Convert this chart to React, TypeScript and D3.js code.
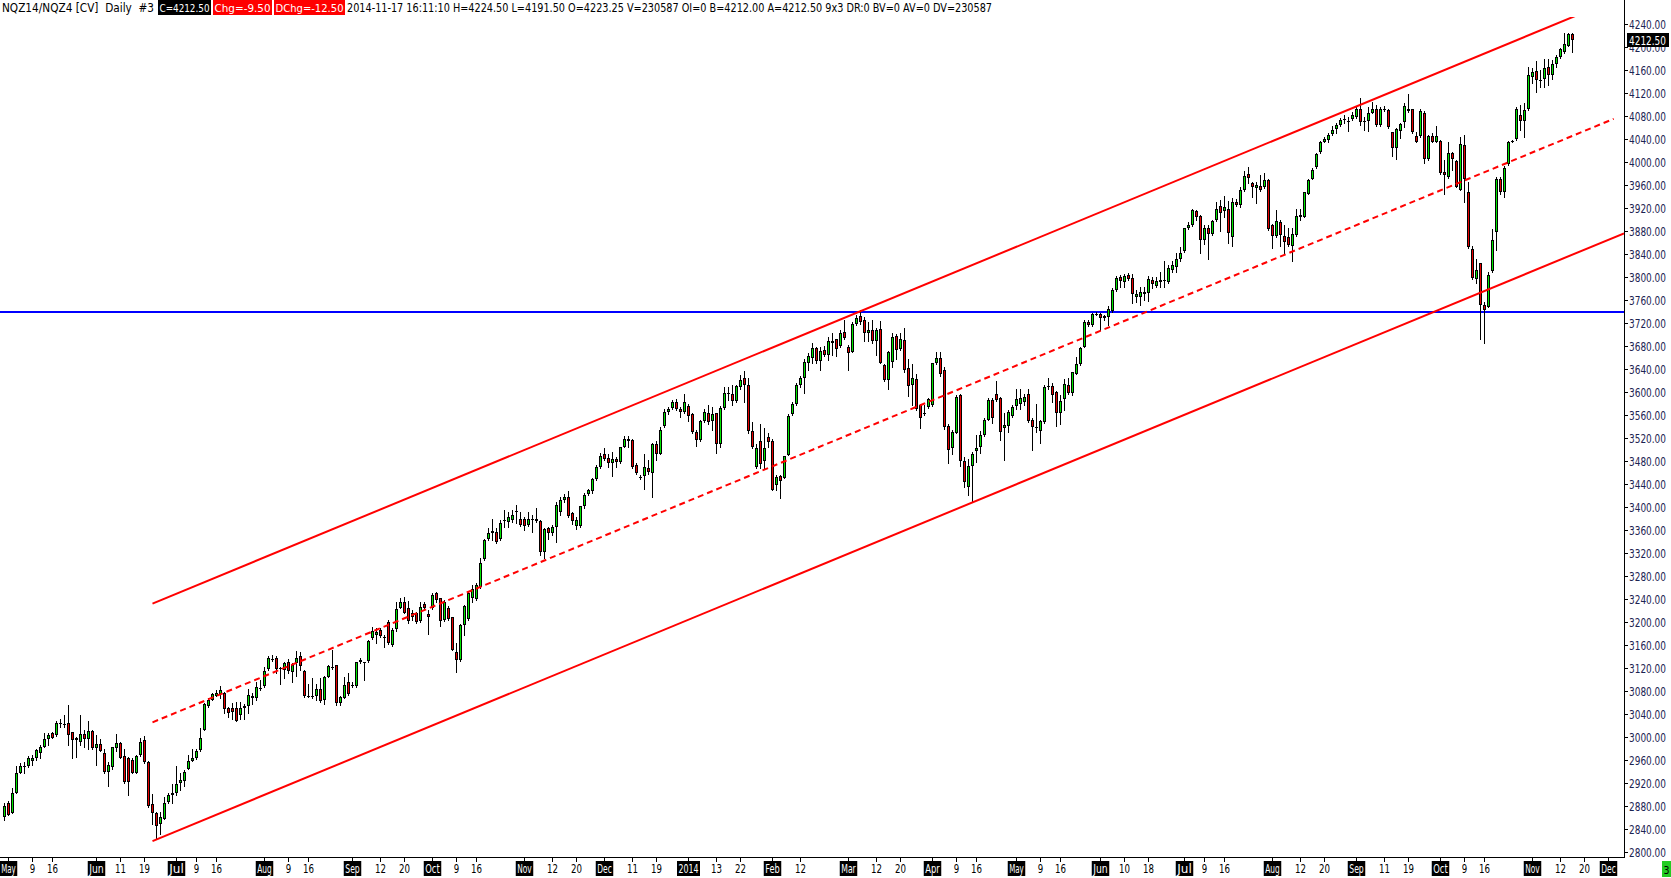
import * as d3 from "d3";
import React from "react";

const WIDTH = 1671;
const HEIGHT = 878;
const PLOT_RIGHT = 1624;
const PLOT_TOP = 17;
const AXIS_Y = 857;
const FONT = "'Liberation Sans Narrow', 'DejaVu Sans Condensed', sans-serif";

// exchange holidays inside the shown range
const HOLIDAYS = [
  "2013-05-27", "2013-07-04", "2013-09-02", "2013-11-28", "2013-12-25",
  "2014-01-01", "2014-01-20", "2014-02-17", "2014-04-18", "2014-05-26",
  "2014-07-04", "2014-09-01", "2014-11-27",
];

const FIRST_CANDLE = "2013-04-30";

// daily OHLC from 2013-04-30 to 2014-11-17
const OPEN = [
  2861, 2886, 2868, 2903, 2938, 2947, 2950, 2959, 2963, 2973, 2982,
  2997, 3007, 3003, 3024, 3022, 3024, 3008, 2998, 2992, 3006,
  2996, 3011, 2981, 2987, 2972, 2940, 2948, 2981, 2990, 2967,
  2964, 2960, 2938, 2969, 2995, 2957, 2883, 2867, 2849, 2858,
  2887, 2899, 2903, 2920, 2924, 2945, 2959, 2963, 2977, 3013,
  3054, 3065, 3071, 3074, 3076, 3050, 3050, 3050, 3039, 3051,
  3054, 3067, 3067, 3085, 3089, 3118, 3135, 3138, 3120, 3116,
  3130, 3113, 3128, 3140, 3115, 3072, 3071, 3071, 3083, 3064,
  3105, 3122, 3125, 3060, 3068, 3095, 3090, 3089, 3134, 3130,
  3133, 3172, 3177, 3186, 3174, 3200, 3160, 3187, 3225, 3234,
  3224, 3209, 3215, 3202, 3231, 3214, 3224, 3251, 3241, 3203,
  3225, 3208, 3147, 3134, 3195, 3206, 3241, 3240, 3261, 3309,
  3345, 3355, 3357, 3344, 3377, 3374, 3378, 3393, 3380, 3379,
  3369, 3380, 3380, 3376, 3321, 3364, 3355, 3365, 3392, 3412,
  3417, 3389, 3367, 3367, 3401, 3423, 3427, 3448, 3469, 3493,
  3485, 3477, 3483, 3479, 3505, 3519, 3517, 3473, 3453, 3454,
  3467, 3460, 3509, 3493, 3541, 3566, 3573, 3583, 3570, 3566,
  3576, 3561, 3531, 3516, 3549, 3563, 3550, 3563, 3509, 3573,
  3599, 3597, 3585, 3608, 3625, 3613, 3532, 3469, 3515, 3480,
  3522, 3515, 3438, 3454, 3451, 3491, 3561, 3579, 3612, 3624,
  3651, 3660, 3676, 3654, 3673, 3664, 3686, 3692, 3680, 3704,
  3678, 3670, 3718, 3732, 3725, 3702, 3708, 3689, 3710, 3647,
  3621, 3653, 3697, 3674, 3690, 3641, 3612, 3622, 3578, 3563,
  3574, 3577, 3651, 3659, 3638, 3541, 3502, 3529, 3595, 3480,
  3435, 3471, 3498, 3505, 3525, 3552, 3586, 3596, 3590, 3537,
  3541, 3558, 3576, 3580, 3583, 3596, 3551, 3539, 3533, 3548,
  3611, 3611, 3600, 3564, 3587, 3612, 3599, 3632, 3648, 3679,
  3722, 3716, 3735, 3735, 3732, 3731, 3741, 3777, 3800, 3792,
  3803, 3799, 3766, 3766, 3774, 3773, 3795, 3785, 3792, 3794,
  3792, 3813, 3817, 3831, 3846, 3885, 3890, 3914, 3906, 3864,
  3886, 3874, 3899, 3923, 3915, 3919, 3870, 3931, 3925, 3951,
  3979, 3964, 3954, 3958, 3957, 3969, 3890, 3871, 3896, 3872,
  3870, 3854, 3873, 3908, 3905, 3945, 3971, 3992, 4017, 4035,
  4039, 4049, 4057, 4064, 4074, 4072, 4075, 4078, 4092, 4072,
  4072, 4086, 4092, 4065, 4093, 4090, 4052, 4025, 4054, 4070,
  4093, 4092, 4045, 4045, 4086, 4005, 4045, 4035, 4036, 3983,
  3974, 4016, 4002, 3952, 4029, 3947, 3848, 3796, 3824, 3751,
  3748, 3811, 3879, 3970, 3947, 3996, 4037, 4040, 4082, 4072,
  4092, 4148, 4158, 4143, 4144, 4165, 4152, 4170, 4182, 4192,
  4202, 4223.25,
];

const HIGH = [
  2886, 2889, 2912, 2950, 2955, 2957, 2967, 2969, 2980, 2986, 3007,
  3007, 3009, 3028, 3031, 3038, 3056, 3009, 3000, 3038, 3012,
  3027, 3012, 3003, 2996, 2980, 2957, 2983, 3005, 2992, 2980,
  2966, 2964, 2969, 2998, 3002, 2958, 2901, 2870, 2870, 2896,
  2902, 2919, 2950, 2937, 2943, 2968, 2980, 2980, 3015, 3060,
  3067, 3077, 3082, 3089, 3079, 3053, 3060, 3061, 3061, 3058,
  3084, 3076, 3096, 3099, 3122, 3140, 3142, 3140, 3122, 3130,
  3135, 3128, 3149, 3147, 3116, 3093, 3102, 3093, 3102, 3106,
  3125, 3151, 3126, 3071, 3105, 3111, 3096, 3131, 3137, 3131,
  3169, 3192, 3189, 3189, 3177, 3203, 3189, 3234, 3241, 3244,
  3237, 3221, 3218, 3235, 3235, 3221, 3251, 3253, 3242, 3238,
  3228, 3209, 3164, 3196, 3229, 3253, 3264, 3267, 3311, 3345,
  3363, 3380, 3363, 3377, 3395, 3392, 3395, 3403, 3392, 3383,
  3392, 3386, 3399, 3377, 3363, 3366, 3369, 3409, 3418, 3423,
  3428, 3391, 3383, 3402, 3425, 3432, 3450, 3473, 3494, 3502,
  3493, 3495, 3487, 3505, 3524, 3524, 3519, 3476, 3456, 3492,
  3481, 3512, 3514, 3540, 3571, 3574, 3586, 3587, 3574, 3596,
  3580, 3563, 3534, 3551, 3571, 3577, 3574, 3564, 3576, 3609,
  3609, 3612, 3612, 3630, 3636, 3624, 3547, 3510, 3545, 3537,
  3528, 3519, 3456, 3456, 3489, 3562, 3583, 3615, 3628, 3658,
  3667, 3686, 3678, 3679, 3680, 3696, 3702, 3693, 3707, 3725,
  3682, 3721, 3734, 3743, 3731, 3722, 3726, 3711, 3724, 3649,
  3671, 3702, 3701, 3702, 3712, 3657, 3649, 3632, 3580, 3577,
  3589, 3650, 3669, 3670, 3644, 3544, 3534, 3595, 3596, 3487,
  3484, 3496, 3525, 3532, 3554, 3590, 3589, 3620, 3592, 3563,
  3568, 3577, 3606, 3606, 3596, 3606, 3554, 3580, 3552, 3612,
  3624, 3615, 3602, 3594, 3622, 3624, 3635, 3661, 3679, 3725,
  3725, 3738, 3740, 3738, 3734, 3750, 3780, 3802, 3803, 3806,
  3807, 3806, 3778, 3783, 3783, 3802, 3800, 3800, 3809, 3827,
  3821, 3827, 3841, 3852, 3886, 3896, 3919, 3916, 3908, 3890,
  3890, 3900, 3931, 3934, 3941, 3933, 3937, 3935, 3957, 3985,
  3991, 3966, 3966, 3977, 3981, 3970, 3893, 3916, 3899, 3890,
  3886, 3885, 3919, 3919, 3948, 3971, 3989, 4016, 4037, 4044,
  4050, 4063, 4067, 4076, 4082, 4079, 4087, 4095, 4112, 4079,
  4095, 4105, 4099, 4095, 4097, 4092, 4053, 4060, 4068, 4103,
  4118, 4093, 4053, 4092, 4088, 4047, 4050, 4063, 4038, 4003,
  4034, 4018, 4003, 4043, 4047, 3966, 3854, 3831, 3825, 3757,
  3809, 3883, 3974, 3974, 3993, 4037, 4039, 4095, 4099, 4103,
  4166, 4163, 4175, 4160, 4179, 4179, 4177, 4186, 4199, 4225,
  4225, 4224.5,
];

const LOW = [
  2856, 2864, 2867, 2902, 2938, 2938, 2947, 2951, 2960, 2963, 2982,
  2986, 2999, 3001, 3018, 3018, 2986, 2964, 2966, 2986, 2983,
  2980, 2980, 2951, 2976, 2938, 2914, 2944, 2976, 2963, 2920,
  2899, 2937, 2937, 2967, 2955, 2879, 2849, 2822, 2832, 2857,
  2886, 2885, 2899, 2908, 2915, 2944, 2958, 2962, 2976, 3012,
  3052, 3064, 3071, 3067, 3042, 3034, 3032, 3027, 3031, 3031,
  3041, 3058, 3065, 3082, 3087, 3116, 3132, 3111, 3093, 3102,
  3111, 3096, 3106, 3116, 3070, 3070, 3067, 3065, 3061, 3058,
  3104, 3119, 3055, 3055, 3067, 3073, 3087, 3087, 3128, 3099,
  3131, 3171, 3163, 3174, 3157, 3162, 3158, 3185, 3224, 3215,
  3199, 3203, 3198, 3200, 3221, 3180, 3222, 3235, 3193, 3202,
  3204, 3151, 3113, 3133, 3177, 3204, 3235, 3238, 3260, 3308,
  3343, 3343, 3338, 3343, 3365, 3366, 3374, 3372, 3367, 3360,
  3367, 3357, 3374, 3316, 3312, 3345, 3351, 3340, 3386, 3409,
  3383, 3370, 3361, 3365, 3399, 3421, 3425, 3447, 3467, 3482,
  3470, 3454, 3470, 3477, 3504, 3505, 3467, 3458, 3448, 3432,
  3458, 3418, 3482, 3492, 3540, 3562, 3571, 3569, 3557, 3564,
  3550, 3529, 3506, 3515, 3547, 3545, 3534, 3494, 3505, 3571,
  3586, 3577, 3583, 3606, 3583, 3529, 3502, 3467, 3467, 3467,
  3505, 3429, 3429, 3415, 3450, 3490, 3560, 3577, 3609, 3599,
  3639, 3651, 3651, 3639, 3662, 3656, 3664, 3662, 3678, 3693,
  3638, 3669, 3717, 3719, 3688, 3688, 3685, 3664, 3650, 3620,
  3605, 3643, 3657, 3673, 3635, 3593, 3577, 3569, 3537, 3560,
  3572, 3575, 3649, 3628, 3535, 3477, 3493, 3528, 3471, 3434,
  3420, 3409, 3478, 3494, 3523, 3551, 3546, 3584, 3516, 3481,
  3531, 3557, 3571, 3571, 3577, 3548, 3499, 3531, 3512, 3546,
  3606, 3583, 3541, 3545, 3568, 3596, 3595, 3631, 3647, 3678,
  3714, 3714, 3734, 3708, 3725, 3716, 3740, 3776, 3783, 3783,
  3795, 3754, 3757, 3751, 3760, 3759, 3780, 3783, 3783, 3783,
  3789, 3809, 3809, 3828, 3844, 3883, 3889, 3899, 3842, 3857,
  3832, 3873, 3897, 3880, 3904, 3859, 3854, 3923, 3922, 3950,
  3963, 3940, 3928, 3950, 3954, 3882, 3850, 3869, 3854, 3842,
  3854, 3828, 3871, 3899, 3904, 3944, 3970, 3989, 4015, 4034,
  4034, 4047, 4050, 4063, 4067, 4054, 4073, 4076, 4064, 4056,
  4054, 4085, 4063, 4063, 4089, 4060, 4010, 4006, 4041, 4061,
  4087, 4050, 4034, 4044, 3999, 4003, 4034, 4034, 3980, 3945,
  3973, 3986, 3956, 3951, 3931, 3851, 3797, 3789, 3693, 3686,
  3747, 3809, 3847, 3945, 3940, 3995, 4034, 4038, 4056, 4044,
  4090, 4137, 4121, 4131, 4131, 4134, 4144, 4166, 4180, 4189,
  4201, 4191.5,
];

const CLOSE = [
  2880, 2865, 2903, 2937, 2950, 2950, 2963, 2963, 2977, 2982, 2996,
  3003, 2999, 3024, 3022, 3021, 3003, 2994, 2994, 3005, 2997,
  3011, 2981, 2987, 2976, 2940, 2951, 2982, 2989, 2964, 2921,
  2922, 2938, 2967, 2992, 2957, 2880, 2867, 2846, 2861, 2885,
  2900, 2902, 2918, 2925, 2940, 2958, 2963, 2976, 2998, 3057,
  3064, 3075, 3076, 3082, 3048, 3042, 3043, 3027, 3050, 3054,
  3073, 3071, 3087, 3084, 3115, 3138, 3136, 3118, 3119, 3128,
  3115, 3125, 3138, 3124, 3071, 3072, 3070, 3083, 3063, 3105,
  3123, 3121, 3060, 3069, 3091, 3074, 3089, 3130, 3130, 3129,
  3167, 3184, 3183, 3176, 3174, 3163, 3186, 3222, 3234, 3216,
  3201, 3215, 3200, 3226, 3224, 3209, 3247, 3238, 3202, 3235,
  3206, 3152, 3134, 3195, 3228, 3250, 3257, 3265, 3302, 3343,
  3354, 3358, 3340, 3372, 3378, 3383, 3386, 3393, 3369, 3367,
  3379, 3380, 3376, 3321, 3361, 3355, 3366, 3403, 3412, 3417,
  3384, 3376, 3377, 3401, 3421, 3430, 3448, 3469, 3489, 3483,
  3476, 3483, 3479, 3504, 3519, 3514, 3470, 3460, 3452, 3470,
  3461, 3509, 3493, 3534, 3565, 3570, 3582, 3570, 3566, 3583,
  3559, 3531, 3516, 3549, 3565, 3548, 3562, 3509, 3573, 3599,
  3596, 3585, 3610, 3621, 3613, 3532, 3504, 3502, 3475, 3502,
  3513, 3429, 3453, 3445, 3489, 3558, 3579, 3613, 3625, 3653,
  3663, 3676, 3654, 3672, 3664, 3688, 3689, 3674, 3703, 3694,
  3668, 3718, 3728, 3722, 3703, 3708, 3688, 3708, 3651, 3621,
  3670, 3696, 3673, 3692, 3638, 3610, 3624, 3570, 3554, 3563,
  3587, 3650, 3659, 3631, 3540, 3500, 3530, 3592, 3480, 3444,
  3471, 3492, 3502, 3525, 3552, 3586, 3554, 3586, 3531, 3542,
  3565, 3574, 3588, 3590, 3592, 3549, 3539, 3539, 3549, 3609,
  3611, 3595, 3563, 3585, 3614, 3598, 3634, 3648, 3677, 3722,
  3716, 3735, 3736, 3728, 3728, 3744, 3777, 3799, 3793, 3802,
  3797, 3770, 3771, 3774, 3770, 3796, 3788, 3793, 3795, 3795,
  3815, 3821, 3832, 3842, 3885, 3890, 3917, 3904, 3864, 3885,
  3874, 3898, 3919, 3912, 3922, 3876, 3930, 3926, 3951, 3976,
  3972, 3956, 3960, 3951, 3969, 3883, 3871, 3897, 3873, 3860,
  3856, 3875, 3906, 3904, 3947, 3969, 3986, 4014, 4034, 4040,
  4047, 4056, 4064, 4073, 4074, 4071, 4081, 4092, 4070, 4070,
  4086, 4093, 4065, 4093, 4090, 4061, 4025, 4058, 4066, 4097,
  4088, 4052, 4035, 4089, 4006, 4045, 4035, 4045, 3981, 3977,
  4016, 4006, 3957, 4031, 3970, 3853, 3799, 3812, 3751, 3742,
  3804, 3865, 3971, 3948, 3989, 4034, 4037, 4093, 4072, 4090,
  4151, 4156, 4143, 4142, 4163, 4151, 4170, 4182, 4196, 4205,
  4223, 4212.5,
];

// bottom axis: [date, label]; month names and the year go in black boxes
const AXIS_LABELS: [string, string][] = [
  ["2013-05-01", "May"], ["2013-05-09", "9"], ["2013-05-16", "16"],
  ["2013-06-03", "Jun"], ["2013-06-11", "11"], ["2013-06-19", "19"],
  ["2013-07-01", "Jul"], ["2013-07-09", "9"], ["2013-07-16", "16"],
  ["2013-08-01", "Aug"], ["2013-08-09", "9"], ["2013-08-16", "16"],
  ["2013-09-03", "Sep"], ["2013-09-12", "12"], ["2013-09-20", "20"],
  ["2013-10-01", "Oct"], ["2013-10-09", "9"], ["2013-10-16", "16"],
  ["2013-11-01", "Nov"], ["2013-11-12", "12"], ["2013-11-20", "20"],
  ["2013-12-02", "Dec"], ["2013-12-11", "11"], ["2013-12-19", "19"],
  ["2014-01-02", "2014"], ["2014-01-13", "13"], ["2014-01-22", "22"],
  ["2014-02-03", "Feb"], ["2014-02-12", "12"],
  ["2014-03-03", "Mar"], ["2014-03-12", "12"], ["2014-03-20", "20"],
  ["2014-04-01", "Apr"], ["2014-04-09", "9"], ["2014-04-16", "16"],
  ["2014-05-01", "May"], ["2014-05-09", "9"], ["2014-05-16", "16"],
  ["2014-06-02", "Jun"], ["2014-06-10", "10"], ["2014-06-18", "18"],
  ["2014-07-01", "Jul"], ["2014-07-09", "9"], ["2014-07-16", "16"],
  ["2014-08-01", "Aug"], ["2014-08-12", "12"], ["2014-08-20", "20"],
  ["2014-09-02", "Sep"], ["2014-09-11", "11"], ["2014-09-19", "19"],
  ["2014-10-01", "Oct"], ["2014-10-09", "9"], ["2014-10-16", "16"],
  ["2014-11-03", "Nov"], ["2014-11-12", "12"], ["2014-11-20", "20"],
  ["2014-12-01", "Dec"],
];

// regression channel drawn on the chart
const CHANNEL_BASE = [
  { date: "2013-06-21", price: 2819 },
  { date: "2014-04-15", price: 3408 },
];
const CHANNEL_WIDTH = 413;
const UPPER_END = "2014-11-19";
const MIDDLE_END = "2014-12-02";
const SUPPORT_LEVEL = 3740;

const LAST_PRICE = "4212.50";
const HEADER_LEFT = "NQZ14/NQZ4 [CV]  Daily  #3";
const HEADER_BOXES = [
  { text: "C=4212.50", fill: "#000000" },
  { text: "Chg=-9.50", fill: "#ff0000" },
  { text: "DChg=-12.50", fill: "#ff0000" },
];
const HEADER_REST =
  "2014-11-17 16:11:10 H=4224.50 L=4191.50 O=4223.25 V=230587 OI=0 B=4212.00 A=4212.50 9x3 DR:0 BV=0 AV=0 DV=230587";

function tradingDays(from: string, to: string): string[] {
  const out: string[] = [];
  const d = new Date(from + "T00:00:00Z");
  const end = new Date(to + "T00:00:00Z");
  while (d <= end) {
    const wd = d.getUTCDay();
    const s = d.toISOString().slice(0, 10);
    if (wd !== 0 && wd !== 6 && !HOLIDAYS.includes(s)) out.push(s);
    d.setUTCDate(d.getUTCDate() + 1);
  }
  return out;
}

const DAYS = tradingDays("2013-04-29", "2014-12-12");
const dayIndex = new Map(DAYS.map((s, i) => [s, i] as [string, number]));

const App: React.FC = () => {
  // one bar every 4px
  const x = d3.scaleLinear().domain([0, 406]).range([0.5, 1624.5]);
  const y = d3.scaleLinear().domain([2800, 4240]).range([852, 24]);

  const start = dayIndex.get(FIRST_CANDLE)!;
  const candles = CLOSE.map((c, k) => ({
    i: start + k,
    o: OPEN[k],
    h: HIGH[k],
    l: LOW[k],
    c,
  }));

  // channel geometry in (bar index, price) space
  const i0 = dayIndex.get(CHANNEL_BASE[0].date)!;
  const i1 = dayIndex.get(CHANNEL_BASE[1].date)!;
  const slope = (CHANNEL_BASE[1].price - CHANNEL_BASE[0].price) / (i1 - i0);
  const base = (i: number) => CHANNEL_BASE[0].price + slope * (i - i0);
  const rightIdx = x.invert(PLOT_RIGHT);
  const upperEnd = dayIndex.get(UPPER_END)!;
  const midEnd = dayIndex.get(MIDDLE_END)! + 0.3;

  const yTicks = d3.range(2800, 4241, 40);

  return (
    <svg
      width={WIDTH}
      height={HEIGHT}
      style={{ position: "absolute", left: 0, top: 0, background: "#fff" }}
      fontFamily={FONT}
    >
      <defs>
        <clipPath id="plot">
          <rect x={0} y={PLOT_TOP} width={PLOT_RIGHT} height={AXIS_Y - PLOT_TOP} />
        </clipPath>
      </defs>
      <rect width={WIDTH} height={HEIGHT} fill="#fff" />

      <g clipPath="url(#plot)">
        {/* horizontal support line */}
        <line
          x1={0}
          x2={PLOT_RIGHT}
          y1={Math.round(y(SUPPORT_LEVEL))}
          y2={Math.round(y(SUPPORT_LEVEL))}
          stroke="#0000ff"
          strokeWidth={2}
        />
        {/* candles */}
        {candles.map((d) => {
          const cx = Math.floor(x(d.i)) + 0.5;
          const top = Math.round(y(Math.max(d.o, d.c)));
          const bot = Math.round(y(Math.min(d.o, d.c)));
          const h = Math.max(1, bot - top);
          const up = d.c >= d.o;
          return (
            <g key={d.i}>
              <line
                x1={cx}
                x2={cx}
                y1={Math.round(y(d.h))}
                y2={Math.round(y(d.l)) + 1}
                stroke="#000"
                strokeWidth={1}
              />
              <rect x={cx - 1.5} y={top} width={3} height={h} fill="#000" />
              {h > 2 && (
                <rect
                  x={cx - 0.5}
                  y={top + 1}
                  width={1}
                  height={h - 2}
                  fill={up ? "#00e600" : "#e60000"}
                />
              )}
            </g>
          );
        })}
        {/* channel */}
        <line
          x1={x(i0)}
          y1={y(base(i0))}
          x2={x(rightIdx)}
          y2={y(base(rightIdx))}
          stroke="#ff0000"
          strokeWidth={2}
        />
        <line
          x1={x(i0)}
          y1={y(base(i0) + CHANNEL_WIDTH)}
          x2={x(upperEnd)}
          y2={y(base(upperEnd) + CHANNEL_WIDTH)}
          stroke="#ff0000"
          strokeWidth={2}
        />
        <line
          x1={x(i0)}
          y1={y(base(i0) + CHANNEL_WIDTH / 2)}
          x2={x(midEnd)}
          y2={y(base(midEnd) + CHANNEL_WIDTH / 2)}
          stroke="#ff0000"
          strokeWidth={2}
          strokeDasharray="6,4"
        />
      </g>

      {/* right price axis */}
      <line x1={PLOT_RIGHT + 0.5} x2={PLOT_RIGHT + 0.5} y1={0} y2={AXIS_Y} stroke="#000" />
      {yTicks.map((v) => {
        const ty = Math.round(y(v)) + 0.5;
        return (
          <g key={v}>
            <line x1={PLOT_RIGHT} x2={PLOT_RIGHT + 4} y1={ty} y2={ty} stroke="#000" />
            <text
              x={1666}
              y={ty + 4.5}
              fontSize={12}
              fill="#1c2452"
              textAnchor="end"
              textLength={37}
              lengthAdjust="spacingAndGlyphs"
            >
              {v.toFixed(2)}
            </text>
          </g>
        );
      })}
      <rect x={PLOT_RIGHT + 3} y={Math.round(y(4212.5)) - 7} width={42} height={14} fill="#000" />
      <text
        x={1666}
        y={Math.round(y(4212.5)) + 4.5}
        fontSize={12}
        fill="#fff"
        textAnchor="end"
        textLength={37}
        lengthAdjust="spacingAndGlyphs"
      >
        {LAST_PRICE}
      </text>

      {/* bottom date axis */}
      <line x1={0} x2={PLOT_RIGHT + 1} y1={AXIS_Y + 0.5} y2={AXIS_Y + 0.5} stroke="#000" />
      {AXIS_LABELS.map(([date, label]) => {
        const tx = Math.floor(x(dayIndex.get(date)!)) + 0.5;
        const boxed = label.length > 2;
        const w = label.length * 5.5 + 1;
        return (
          <g key={date}>
            <line x1={tx} x2={tx} y1={AXIS_Y} y2={AXIS_Y + 5} stroke="#000" />
            {boxed && <rect x={tx - w / 2} y={861} width={w} height={15} fill="#000" />}
            <text
              x={tx}
              y={873}
              fontSize={12}
              textAnchor="middle"
              fill={boxed ? "#fff" : "#000"}
              textLength={boxed ? w - 3 : label.length * 5.5}
              lengthAdjust="spacingAndGlyphs"
            >
              {label}
            </text>
          </g>
        );
      })}
      <rect x={1662} y={861} width={9} height={16} fill="#22cc22" />
      <text
        x={1666.5}
        y={874}
        fontSize={11}
        fill="#000"
        textAnchor="middle"
        textLength={6}
        lengthAdjust="spacingAndGlyphs"
      >
        3
      </text>

      {/* header line */}
      <text x={2} y={12} fontSize={12} fill="#000" textLength={152} lengthAdjust="spacingAndGlyphs" xmlSpace="preserve">
        {HEADER_LEFT}
      </text>
      {HEADER_BOXES.map((b, k) => {
        const xs = [158, 213, 274];
        const ws = [53, 59, 71];
        return (
          <g key={b.text}>
            <rect x={xs[k]} y={0} width={ws[k]} height={15} fill={b.fill} />
            <text
              x={xs[k] + ws[k] / 2}
              y={12}
              fontSize={11}
              fill="#fff"
              textAnchor="middle"
              textLength={ws[k] - 3}
              lengthAdjust="spacingAndGlyphs"
            >
              {b.text}
            </text>
          </g>
        );
      })}
      <text x={347} y={12} fontSize={12} fill="#000" textLength={645} lengthAdjust="spacingAndGlyphs">
        {HEADER_REST}
      </text>
    </svg>
  );
};

export default App;
